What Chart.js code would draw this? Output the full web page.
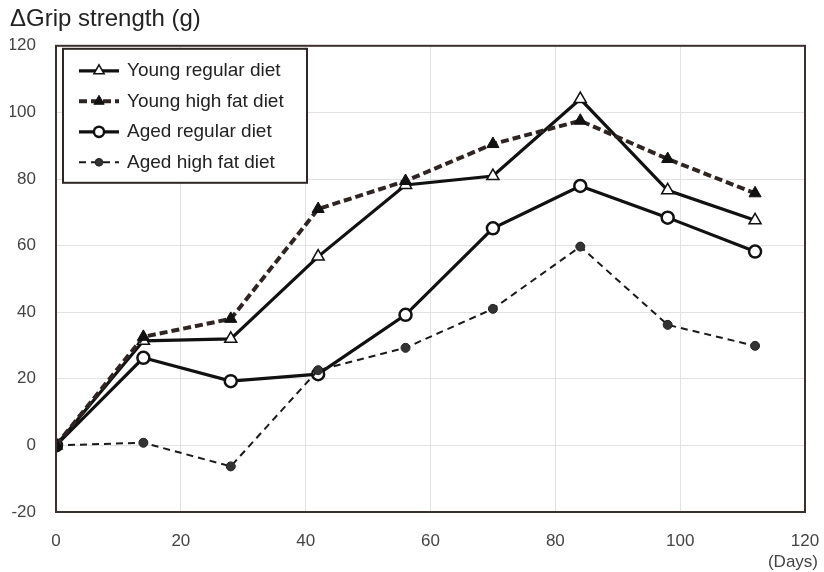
<!DOCTYPE html>
<html>
<head>
<meta charset="utf-8">
<script src="https://cdn.jsdelivr.net/npm/chart.js@4"></script>
<style>
  html, body { margin: 0; padding: 0; background: #fff; }
  #wrap { width: 824px; height: 572px; }
</style>
</head>
<body>
<div id="wrap"><canvas id="lineChart" width="824" height="572"></canvas></div>
<script>
const days = [0, 14, 28, 42, 56, 70, 84, 98, 112];
const youngRegular = [0, 31.4, 32, 56.7, 78.2, 80.9, 104, 76.6, 67.6];
const youngHighFat = [0, 32.6, 38, 71, 79.4, 90.5, 97.5, 86, 75.7];
const agedRegular = [0, 26.3, 19.3, 21.4, 39.2, 65.2, 77.9, 68.4, 58.2];
const agedHighFat = [0, 0.8, -6.3, 22.6, 29.3, 41, 59.7, 36.2, 29.9];
const xTicks = [0, 20, 40, 60, 80, 100, 120];
const yTicks = [-20, 0, 20, 40, 60, 80, 100, 120];

function toPoints(values) {
    return days.map((d, i) => ({ x: d, y: values[i] }));
}

// legend drawn inside the plot, with a line sample and a marker like the original
const boxLegend = {
    id: 'boxLegend',
    afterDraw(chart) {
        const ctx = chart.ctx;
        const area = chart.chartArea;
        const left = area.left + 7, top = area.top + 3;
        const w = 244, h = 134;
        ctx.save();
        ctx.fillStyle = '#fff';
        ctx.fillRect(left, top, w, h);
        ctx.strokeStyle = '#2e2624';
        ctx.lineWidth = 2;
        ctx.strokeRect(left, top, w, h);
        chart.data.datasets.forEach((ds, i) => {
            const y = top + 22 + i * 30.5;
            ctx.beginPath();
            ctx.setLineDash(ds.borderDash || []);
            ctx.lineWidth = ds.borderWidth;
            ctx.strokeStyle = ds.borderColor;
            ctx.moveTo(left + 16, y);
            ctx.lineTo(left + 56, y);
            ctx.stroke();
            ctx.setLineDash([]);
            ctx.fillStyle = ds.pointBackgroundColor;
            ctx.strokeStyle = ds.pointBorderColor;
            ctx.lineWidth = ds.pointBorderWidth;
            Chart.helpers.drawPoint(ctx, {
                pointStyle: ds.pointStyle,
                radius: ds.pointRadius * 0.85,
                borderWidth: ds.pointBorderWidth
            }, left + 36, y);
            ctx.fillStyle = '#222';
            ctx.font = '19px "Liberation Sans", Arial, sans-serif';
            ctx.textBaseline = 'middle';
            ctx.textAlign = 'left';
            ctx.fillText(ds.label, left + 64, y);
        });
        // frame of the plot area
        ctx.strokeStyle = '#3a302d';
        ctx.lineWidth = 2;
        ctx.strokeRect(area.left, area.top, area.right - area.left, area.bottom - area.top);
        // unit of the x axis under the last tick
        const xs = chart.scales.x;
        ctx.fillStyle = '#444';
        ctx.font = '17px "Liberation Sans", Arial, sans-serif';
        ctx.textAlign = 'right';
        ctx.textBaseline = 'middle';
        ctx.fillText('(Days)', xs.getPixelForValue(120) + 13, 562);
        ctx.restore();
    }
};

const data = {
    datasets: [
        {
            label: 'Young regular diet',
            data: toPoints(youngRegular),
            borderColor: '#111',
            borderWidth: 3.2,
            pointStyle: 'triangle',
            pointRadius: 7,
            pointBackgroundColor: '#fff',
            pointBorderColor: '#111',
            pointBorderWidth: 1.5,
            order: 2,
        },
        {
            label: 'Young high fat diet',
            data: toPoints(youngHighFat),
            borderColor: '#2e2422',
            borderWidth: 4,
            borderDash: [8, 4],
            pointStyle: 'triangle',
            pointRadius: 7,
            pointBackgroundColor: '#111',
            pointBorderColor: '#111',
            pointBorderWidth: 1,
            order: 1,
        },
        {
            label: 'Aged regular diet',
            data: toPoints(agedRegular),
            borderColor: '#111',
            borderWidth: 3.2,
            pointStyle: 'circle',
            pointRadius: 6,
            pointBackgroundColor: '#fff',
            pointBorderColor: '#111',
            pointBorderWidth: 2.5,
            order: 4,
        },
        {
            label: 'Aged high fat diet',
            data: toPoints(agedHighFat),
            borderColor: '#1a1a1a',
            borderWidth: 2,
            borderDash: [7, 5],
            pointStyle: 'circle',
            pointRadius: 4.5,
            pointBackgroundColor: '#333',
            pointBorderColor: '#222',
            pointBorderWidth: 1,
            order: 3,
        },
    ]
};

const tickFont = { family: '"Liberation Sans", Arial, sans-serif', size: 17 };

const options = {
    responsive: false,
    animation: false,
    layout: { padding: { left: 10, right: 19, top: 0, bottom: 0 } },
    elements: { line: { tension: 0, fill: false } },
    scales: {
        x: {
            type: 'linear',
            min: 0,
            max: 120,
            afterBuildTicks: (scale) => { scale.ticks = xTicks.map(v => ({ value: v })); },
            afterFit: (scale) => {
                scale.height = 60;
                scale.paddingLeft = 0;
                scale.paddingRight = 0;
            },
            border: { display: false },
            grid: { color: '#e2e2e2', lineWidth: 1, drawTicks: false },
            ticks: { color: '#444', font: tickFont, padding: 19 },
        },
        y: {
            min: -20,
            max: 120,
            afterBuildTicks: (scale) => { scale.ticks = yTicks.map(v => ({ value: v })); },
            afterFit: (scale) => {
                scale.width = 46;
                scale.paddingTop = 0;
                scale.paddingBottom = 0;
            },
            border: { display: false },
            grid: { color: '#e2e2e2', lineWidth: 1, drawTicks: false },
            ticks: { color: '#444', font: tickFont, padding: 20 },
        },
    },
    plugins: {
        legend: { display: false },
        tooltip: { enabled: false },
        title: {
            display: true,
            text: '\u0394Grip strength (g)',
            align: 'start',
            color: '#222',
            font: { family: '"Liberation Sans", Arial, sans-serif', size: 24, weight: 'normal', lineHeight: 1.2 },
            padding: { top: 5, bottom: 12 },
        },
    },
};

const ctx = document.getElementById('lineChart').getContext('2d');
const lineChart = new Chart(ctx, {
    type: 'line',
    data: data,
    options: options,
    plugins: [boxLegend],
});
</script>
</body>
</html>
